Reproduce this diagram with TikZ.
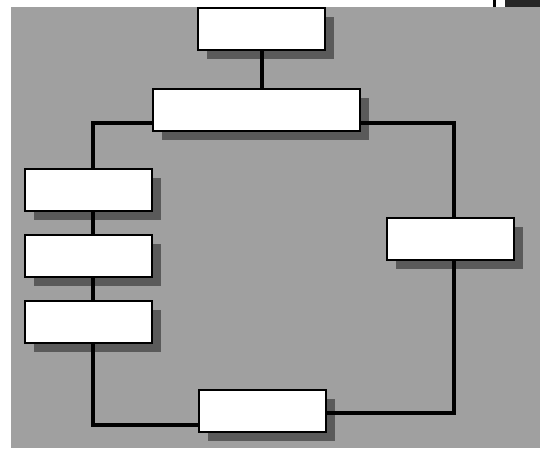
\documentclass[tikz,border=0pt]{standalone}
\usetikzlibrary{shadows}
\definecolor{bggray}{RGB}{160,160,160}
\definecolor{shadowgray}{RGB}{90,90,90}
\begin{document}
\begin{tikzpicture}[x=1pt,y=-1pt,
  box/.style={draw=black, line width=2pt, fill=white, inner sep=0pt,
    minimum width=127pt, minimum height=42pt,
    drop shadow={shadow xshift=9pt, shadow yshift=-9pt, fill=shadowgray, opacity=1}},
  link/.style={draw=black, line width=3.5pt}]
\useasboundingbox (0,0) rectangle (540,448);
\fill[bggray] (11,7) rectangle (540,448);
\fill[black] (493,0) rectangle (496,7);
\fill[black!85] (505,0) rectangle (540,7);
\node[box] (top) at (261.5,29) {};
\node[box, minimum width=207pt] (mid) at (256.5,109.5) {};
\node[box] (l1) at (88,190) {};
\node[box] (l2) at (88,255.5) {};
\node[box] (l3) at (88,321.5) {};
\node[box] (r) at (450.5,238.5) {};
\node[box] (bot) at (262.5,410.5) {};
\coordinate (tl) at (93,123);
\coordinate (tr) at (454,123);
\coordinate (bl) at (93,425);
\coordinate (br) at (454,413);
\draw[link] (top.south -| 262,0) -- (mid.north -| 262,0);
\draw[link] (mid.west |- tl) -- (tl) -- (tl |- l1.north);
\draw[link] (tl |- l1.south) -- (tl |- l2.north);
\draw[link] (tl |- l2.south) -- (tl |- l3.north);
\draw[link] (tl |- l3.south) -- (bl) -- (bl -| bot.west);
\draw[link] (mid.east |- tr) -- (tr) -- (tr |- r.north);
\draw[link] (tr |- r.south) -- (br) -- (br -| bot.east);
\end{tikzpicture}
\end{document}
